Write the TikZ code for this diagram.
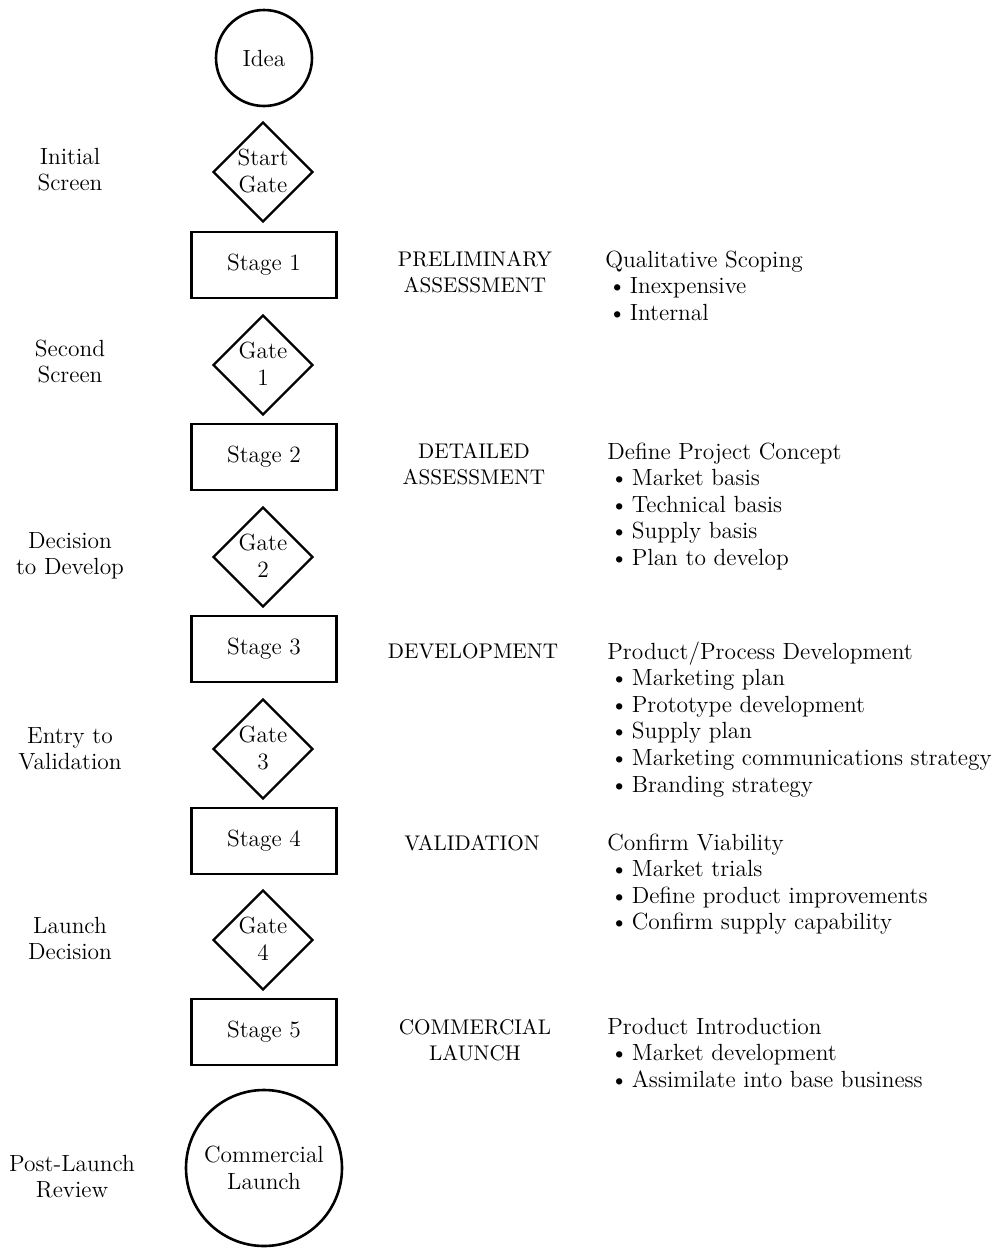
\documentclass[tikz,border=0pt]{standalone}
\usepackage{fontspec}
\usetikzlibrary{shapes.geometric}
\newcommand{\mainfs}{\fontsize{11.7pt}{13.3pt}\selectfont}
\newcommand{\capsfs}{\fontsize{10.6pt}{13.3pt}\selectfont}
\tikzset{
  stagebox/.style={draw, line width=1.3pt, minimum width=72.5pt, minimum height=33pt, inner sep=0pt},
  gatebox/.style={draw, diamond, aspect=1, line width=1.2pt, minimum width=50pt, minimum height=50pt, inner sep=0pt},
  gatetext/.style={inner sep=0pt, align=center},
  lefttext/.style={inner sep=0pt, anchor=base},
  midtext/.style={inner sep=0pt, anchor=base, font=\capsfs},
  listtext/.style={inner sep=0pt, anchor=base west},
}
\newcommand{\blt}{\hspace*{1.5pt}\textbullet\hspace{1.8pt}}
\begin{document}
\begin{tikzpicture}[x=0.5pt, y={(0pt,-0.5pt)}, font=\mainfs]
\useasboundingbox (0,0) rectangle (1002,1253);
% column of shapes
\node[draw, circle, line width=1.3pt, minimum size=48pt, inner sep=0pt] (idea) at (264,58) {Idea};
\node[gatebox] (g0) at (263,172) {};
\node[gatetext] (g0t) at (263,171) {Start\\Gate};
\node[stagebox] (s1) at (264,265) {Stage 1};
\node[gatebox] (g1) at (263,365) {};
\node[gatetext] (g1t) at (263,364) {Gate\\1};
\node[stagebox] (s2) at (264,457) {Stage 2};
\node[gatebox] (g2) at (263,557) {};
\node[gatetext] (g2t) at (263,556) {Gate\\2};
\node[stagebox] (s3) at (264,649) {Stage 3};
\node[gatebox] (g3) at (263,749) {};
\node[gatetext] (g3t) at (263,748) {Gate\\3};
\node[stagebox] (s4) at (264,841) {Stage 4};
\node[gatebox] (g4) at (263,940) {};
\node[gatetext] (g4t) at (263,939) {Gate\\4};
\node[stagebox] (s5) at (264,1032) {Stage 5};
\node[draw, circle, line width=1.3pt, minimum size=78pt, inner sep=0pt, align=center] (cl) at (264,1168) {Commercial\\Launch};
% left labels
\node[lefttext] (l0) at (70,164) {\begin{tabular}[t]{@{}c@{}}Initial\\Screen\end{tabular}};
\node[lefttext] (l1) at (70,356) {\begin{tabular}[t]{@{}c@{}}Second\\Screen\end{tabular}};
\node[lefttext] (l2) at (70,548) {\begin{tabular}[t]{@{}c@{}}Decision\\to Develop\end{tabular}};
\node[lefttext] (l3) at (70,743) {\begin{tabular}[t]{@{}c@{}}Entry to\\Validation\end{tabular}};
\node[lefttext] (l4) at (70,933) {\begin{tabular}[t]{@{}c@{}}Launch\\Decision\end{tabular}};
\node[lefttext] (l5) at (72,1171) {\begin{tabular}[t]{@{}c@{}}Post-Launch\\Review\end{tabular}};
% middle labels
\node[midtext] (m1) at (475,266) {\begin{tabular}[t]{@{}c@{}}PRELIMINARY\\ASSESSMENT\end{tabular}};
\node[midtext] (m2) at (474,458) {\begin{tabular}[t]{@{}c@{}}DETAILED\\ASSESSMENT\end{tabular}};
\node[midtext] (m3) at (473,658) {DEVELOPMENT};
\node[midtext] (m4) at (472,850) {VALIDATION};
\node[midtext] (m5) at (475,1034) {\begin{tabular}[t]{@{}c@{}}COMMERCIAL\\LAUNCH\end{tabular}};
% right lists
\node[listtext] (r1) at (605,267) {\begin{tabular}[t]{@{}l@{}}Qualitative Scoping\\\blt Inexpensive\\\blt Internal\end{tabular}};
\node[listtext] (r2) at (607,459) {\begin{tabular}[t]{@{}l@{}}Define Project Concept\\\blt Market basis\\\blt Technical basis\\\blt Supply basis\\\blt Plan to develop\end{tabular}};
\node[listtext] (r3) at (607,659) {\begin{tabular}[t]{@{}l@{}}Product/Process Development\\\blt Marketing plan\\\blt Prototype development\\\blt Supply plan\\\blt Marketing communications strategy\\\blt Branding strategy\end{tabular}};
\node[listtext] (r4) at (607,850) {\begin{tabular}[t]{@{}l@{}}Confirm Viability\\\blt Market trials\\\blt Define product improvements\\\blt Confirm supply capability\end{tabular}};
\node[listtext] (r5) at (607,1034) {\begin{tabular}[t]{@{}l@{}}Product Introduction\\\blt Market development\\\blt Assimilate into base business\end{tabular}};
\end{tikzpicture}
\end{document}
